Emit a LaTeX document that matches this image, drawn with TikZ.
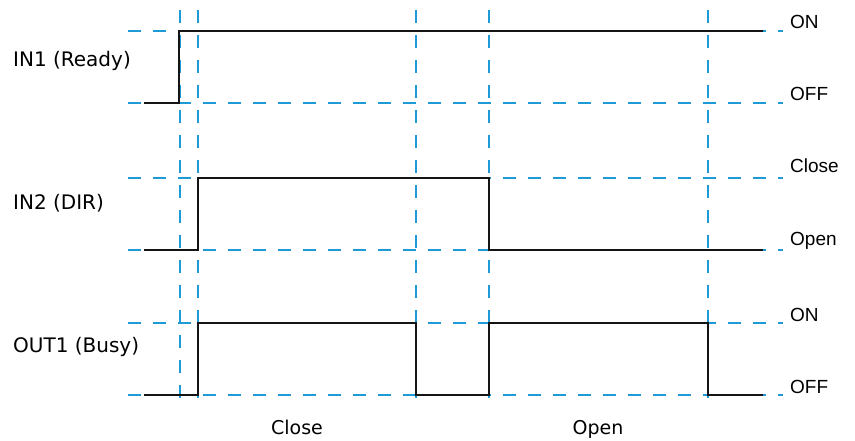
\documentclass[tikz,border=0pt]{standalone}
\usepackage{fontspec}
\setmainfont{DejaVu Sans}
\newfontfamily\lsans{Liberation Sans}
\begin{document}
\begin{tikzpicture}[x=1pt,y=-1pt,
  grid/.style={draw={rgb,255:red,30;green,155;blue,215},line width=1.3pt,dash pattern=on 13pt off 12pt},
  sig/.style={draw={rgb,255:red,20;green,20;blue,20},line width=1.6pt,line join=miter},
  lbl/.style={anchor=base west,inner sep=0pt,font=\fontsize{20}{22}\selectfont},
  lvl/.style={anchor=base west,inner sep=0pt,font=\lsans\fontsize{19}{21}\selectfont},
  phase/.style={anchor=base,inner sep=0pt,font=\fontsize{19}{21}\selectfont}]
\useasboundingbox (0,0) rectangle (855,441);
% horizontal grid
\foreach \yy in {31,103,178,250,323,395}{
  \draw[grid] (128,\yy) -- (783,\yy);
}
% vertical grid
\foreach \xx in {180,198,416,489,708}{
  \draw[grid] (\xx,10) -- (\xx,408);
}
% signals
\draw[sig] (144,103) -- (179,103) -- (179,31) -- (763,31);
\draw[sig] (144,250) -- (198,250) -- (198,178) -- (489,178) -- (489,250) -- (763,250);
\draw[sig] (144,395) -- (198,395) -- (198,323) -- (416,323) -- (416,395) -- (489,395) -- (489,323) -- (708,323) -- (708,395) -- (763,395);
% left labels
\node[lbl] (in1) at (13,67) {IN1 (Ready)};
\node[lbl] (in2) at (13,210) {IN2 (DIR)};
\node[lbl] (out1) at (13,352) {OUT1 (Busy)};
% right level labels
\node[lvl] (on1) at (790,29) {ON};
\node[lvl] (off1) at (790,101) {OFF};
\node[lvl] (close2) at (790,173) {Close};
\node[lvl] (open2) at (790,245) {Open};
\node[lvl] (on3) at (790,321) {ON};
\node[lvl] (off3) at (790,393) {OFF};
% bottom phase labels
\node[phase] (pclose) at (297,434) {Close};
\node[phase] (popen) at (598,434) {Open};
\end{tikzpicture}
\end{document}
